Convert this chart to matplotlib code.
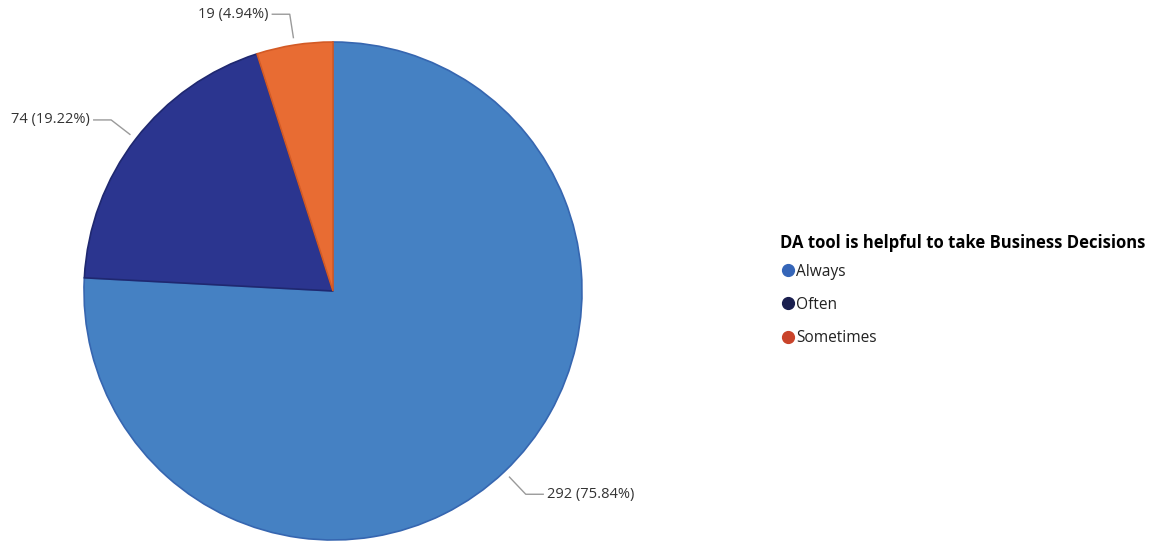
import numpy as np
import matplotlib.pyplot as plt
from matplotlib.lines import Line2D
from matplotlib.font_manager import FontProperties

plt.rcParams['font.family'] = ['Open Sans', 'DejaVu Sans']

# survey answers
categories = ['Always', 'Often', 'Sometimes']
counts = [292, 74, 19]
pcts = [75.84, 19.22, 4.94]
slice_colors = ['#4581C3', '#2B358F', '#E86C33']
edge_colors = ['#3666B0', '#1F2870', '#D35A25']
legend_colors = ['#3565B8', '#1A1F4F', '#C9432A']
legend_title = 'DA tool is helpful to take Business Decisions'

fig = plt.figure(figsize=(11.57, 5.42), dpi=100)
ax = fig.add_axes([84 / 1157, 2 / 542, 498 / 1157, 498 / 542])

wedges, _ = ax.pie(counts, colors=slice_colors, startangle=90, counterclock=False,
                   radius=1.0, wedgeprops=dict(linewidth=1.2))
for w, ec in zip(wedges, edge_colors):
    w.set_edgecolor(ec)
ax.set_xlim(-1, 1)
ax.set_ylim(-1, 1)
ax.set_aspect('equal')
ax.axis('off')

# leader lines + value labels
for w, c, p in zip(wedges, counts, pcts):
    ang = np.deg2rad((w.theta1 + w.theta2) / 2)
    x0, y0 = 1.03 * np.cos(ang), 1.03 * np.sin(ang)
    x1, y1 = 1.125 * np.cos(ang), 1.125 * np.sin(ang)
    side = 1 if np.cos(ang) > 0 else -1
    x2 = x1 + side * 0.07
    ax.plot([x0, x1, x2], [y0, y1, y1], color='#9a9a9a', lw=1, clip_on=False)
    ax.text(x2 + side * 0.015, y1, f'{c} ({p:.2f}%)', ha='left' if side > 0 else 'right',
            va='center', fontsize=10.5, color='#333333', clip_on=False)

handles = [Line2D([], [], marker='o', ls='', markersize=8.5, markerfacecolor=col,
                  markeredgecolor=col) for col in legend_colors]
title_font = FontProperties(family=['Open Sans', 'DejaVu Sans'], weight='bold', size=12)
leg = fig.legend(handles, categories, title=legend_title, loc='upper left',
                 bbox_to_anchor=(780 / 1157, 1 - 234 / 542), frameon=False,
                 fontsize=11.2, title_fontproperties=title_font,
                 handletextpad=0.05, labelspacing=1.1,
                 handlelength=1.0, borderaxespad=0, borderpad=0)
leg._legend_box.align = 'left'
leg._legend_box.sep = 8.5
for t in leg.get_texts():
    t.set_color('#222222')

fig.savefig('out.png', dpi=100)
